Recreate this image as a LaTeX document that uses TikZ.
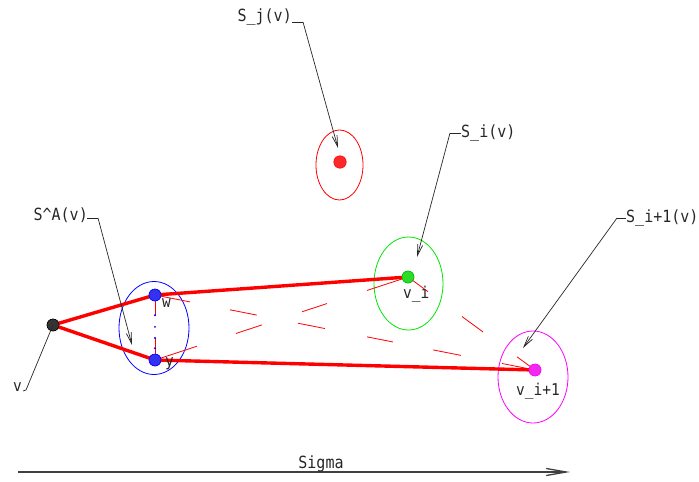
\documentclass[tikz,border=0pt]{standalone}
\usepackage{fontspec}
\usepackage{graphicx}
\setmonofont{DejaVu Sans Mono}
\usetikzlibrary{arrows.meta,calc}
\definecolor{mag}{RGB}{255,0,255}
\definecolor{magfill}{RGB}{240,40,240}
\definecolor{grn}{RGB}{0,230,0}
\definecolor{grnfill}{RGB}{40,220,40}
\definecolor{blu}{RGB}{0,0,255}
\definecolor{blufill}{RGB}{50,50,240}
\definecolor{rd}{RGB}{255,0,0}
\definecolor{rdfill}{RGB}{255,40,40}
\newcommand{\tall}[1]{\scalebox{1}[1.12]{#1}}
\begin{document}
\begin{tikzpicture}[x=1pt,y=-1pt,
  lbl/.style={font=\ttfamily\fontsize{15}{15}\selectfont, inner sep=0pt, text=black!85},
  slbl/.style={font=\ttfamily\fontsize{14.5}{14.5}\selectfont, inner sep=0pt, text=black!85},
  dotn/.style={circle, inner sep=0pt, minimum size=12pt, line width=0.5pt},
  ell/.style={line width=0.8pt},
  thick red/.style={draw=rd, line width=3.4pt, line cap=round},
  thin red/.style={draw=rd, line width=0.8pt},
  leader/.style={draw=black!85, line width=0.7pt, -{Straight Barb[length=11pt,width=5pt]}},
  leadplain/.style={draw=black!85, line width=0.7pt}
]
\useasboundingbox (0,0) rectangle (699,482);

% ellipses
\draw[ell, rd]   (339.5,165) ellipse [x radius=23.5, y radius=35];
\draw[ell, blu]  (154,328) ellipse [x radius=35, y radius=46.5];
\draw[ell, grn]  (408.5,283.5) ellipse [x radius=34.5, y radius=46.5];
\draw[ell, mag]  (533,377) ellipse [x radius=35, y radius=46];

% points
\node[dotn, fill=black!80, draw=black] (v) at (53,325) {};
\node[dotn, fill=blufill, draw=blu] (w) at (155,295) {};
\node[dotn, fill=blufill, draw=blu] (y) at (155,360) {};
\node[dotn, fill=grnfill, draw=grn!80!black] (vi) at (408,277) {};
\node[dotn, fill=magfill, draw=mag] (vi1) at (535,370) {};
\node[dotn, minimum size=12.5pt, fill=rdfill, draw=rd] (sj) at (340,162) {};

% vertical dotted link between w and y
\draw[thin red] (w.center) -- ($(w.center)!0.31!(y.center)$);
\draw[thin red] ($(w.center)!0.66!(y.center)$) -- (y.center);
\foreach \f in {0.31,0.49,0.66,0.82}
  \fill[blu] ($(w.center)!\f!(y.center)$) circle (1.1);

% dashed thin lines
\foreach \a/\b in {0/0.092, 0.197/0.268, 0.376/0.447, 0.558/0.626, 0.732/0.805, 0.913/1}
  \draw[thin red] ($(w.center)!\a!(vi1.center)$) -- ($(w.center)!\b!(vi1.center)$);
\foreach \a/\b in {0/0.166, 0.320/0.423, 0.581/0.680, 0.838/1}
  \draw[thin red] ($(y.center)!\a!(vi.center)$) -- ($(y.center)!\b!(vi.center)$);
\foreach \a/\b in {0/0.157, 0.425/0.591, 0.858/1}
  \draw[thin red] ($(vi.center)!\a!(vi1.center)$) -- ($(vi.center)!\b!(vi1.center)$);

% thick red paths
\draw[thick red] (v.center) -- (w.center) -- (vi.center);
\draw[thick red] (v.center) -- (y.center) -- (vi1.center);

% redraw dots on top
\node[dotn, fill=black!80, draw=black] at (v) {};
\node[dotn, fill=blufill, draw=blu] at (w) {};
\node[dotn, fill=blufill, draw=blu] at (y) {};
\node[dotn, fill=grnfill, draw=grn!80!black] at (vi) {};
\node[dotn, fill=magfill, draw=mag] at (vi1) {};

% small labels
\node[slbl, anchor=base west] (wl) at (162,307) {\tall{w}};
\node[slbl, anchor=base west] (yl) at (165,366) {\tall{y}};
\node[slbl, anchor=base west] (vil) at (403,298) {\tall{v\_i}};
\node[slbl, anchor=base west] (vi1l) at (516,395) {\tall{v\_i+1}};
\node[slbl, anchor=base west] (vl) at (13,391) {\tall{v}};

% leader labels
\node[lbl, anchor=base east] (sjl) at (292,21) {\tall{S\_j(v)}};
\coordinate (sjk) at (303,22);
\coordinate (sjt) at (338,148);
\draw[leadplain] (292,22) -- (sjk);
\draw[leader] (sjk) -- (sjt);

\node[lbl, anchor=west] (sil) at (461,133) {\tall{S\_i(v)}};
\coordinate (sik) at (450,133);
\coordinate (sit) at (417,257);
\draw[leadplain] (sil.west) -- (sik);
\draw[leader] (sik) -- (sit);

\node[lbl, anchor=west] (si1l) at (626,218) {\tall{S\_i+1(v)}};
\coordinate (si1k) at (617,218);
\coordinate (si1t) at (523,348);
\draw[leadplain] (si1l.west) -- (si1k);
\draw[leader] (si1k) -- (si1t);

\node[lbl, anchor=base east] (sal) at (88,220) {\tall{S\textasciicircum A(v)}};
\coordinate (sak) at (98,218);
\coordinate (sat) at (132,345);
\draw[leadplain] (87,218) -- (sak);
\draw[leader] (sak) -- (sat);

\coordinate (vk) at (26,390);
\draw[leadplain] (23,391) -- (vk) -- (v.center);

% Sigma axis
\coordinate (sg0) at (18,472);
\coordinate (sg1) at (570,472);
\draw[draw=black!75, line width=1.3pt, -{Straight Barb[length=20pt,width=7pt]}] (sg0) -- (sg1);
\node[lbl, anchor=base] (sigma) at (321,468) {\tall{Sigma}};
\end{tikzpicture}
\end{document}
